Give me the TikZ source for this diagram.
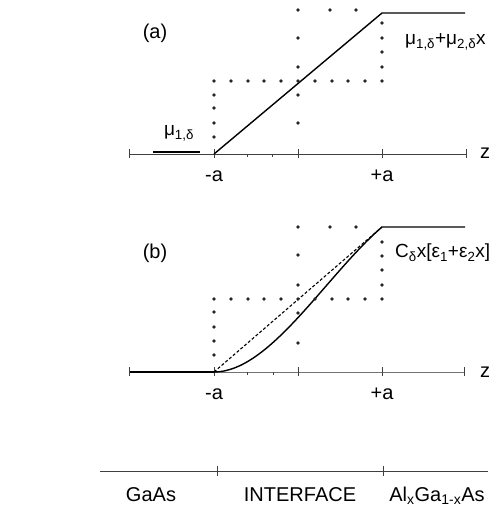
\documentclass[tikz,border=0pt]{standalone}
\usepackage{fontspec}
\setmainfont{Liberation Sans}
\begin{document}
\begin{tikzpicture}[x=1pt,y=-1pt,
  axisline/.style={line width=0.9pt,black!75},
  curveline/.style={line width=1.4pt,black},
  tickmark/.style={line width=0.8pt,black!75},
  dotmark/.style={fill=black!85,draw=none},
  lbl/.style={font=\fontsize{19}{21}\selectfont,inner sep=0pt},
  biglbl/.style={font=\fontsize{20}{22}\selectfont,inner sep=0pt}]
\useasboundingbox (0,0) rectangle (498,531);
% ---------- panel (a) ----------
\coordinate (aL) at (129,154);
\coordinate (aA) at (214,154);
\coordinate (aM) at (298,154);
\coordinate (aB) at (382,154);
\coordinate (aR) at (466,154);
\coordinate (aTop) at (382,13);
\coordinate (aEnd) at (465,13);
\draw[axisline] (aL) -- (aR);
\foreach \x in {129,214,298,382,466} \draw[tickmark] (\x,149) -- (\x,158);
\foreach \x in {247,272} \draw[tickmark] (\x,154) -- (\x,157);
\draw[curveline] (153,152) -- (200,152);
\draw[curveline] (aA) -- (aTop) -- (aEnd);
\foreach \x in {214,231,248,264,281,298,315,332,348,365,382} \fill[dotmark] (\x,81) circle (1.9);
\foreach \y in {95,108,123,137} \fill[dotmark] (214,\y) circle (1.9);
\foreach \y in {23,38,52,67} \fill[dotmark] (382,\y) circle (1.9);
\foreach \y in {10,38,67,95,123} \fill[dotmark] (298,\y) circle (1.9);
\foreach \x in {330,356} \fill[dotmark] (\x,10) circle (1.9);
\node[biglbl] (alab) at (155,33) {(a)};
\node[lbl] (mu1) at (179,133) {μ\textsubscript{1,δ}};
\node[lbl,anchor=west] (mu12) at (405,42) {μ\textsubscript{1,δ}+μ\textsubscript{2,δ}x};
\node[biglbl] (za) at (485,153) {z};
\node[biglbl] (ma) at (214,176) {-a};
\node[biglbl] (pa) at (382,176) {+a};
% ---------- panel (b) ----------
\coordinate (bL) at (129,372);
\coordinate (bA) at (214,372);
\coordinate (bM) at (298,372);
\coordinate (bB) at (382,372);
\coordinate (bR) at (464,372);
\coordinate (bTop) at (382,227);
\coordinate (bEnd) at (465,227);
\draw[curveline] (bL) -- (bA);
\draw[axisline,black!55] (bA) -- (bR);
\foreach \x in {129,214,298,382,464} \draw[tickmark] (\x,367) -- (\x,376);
\foreach \x in {247,273} \draw[tickmark] (\x,372) -- (\x,375);
\draw[line width=1.1pt,densely dashed] (bA) -- (bTop);
\draw[curveline] (bA) .. controls (270,372) and (326,275.3) .. (bTop) -- (bEnd);
\foreach \x in {214,231,248,264,281,298,315,332,348,365,382} \fill[dotmark] (\x,299) circle (1.9);
\foreach \y in {312,327,341,355} \fill[dotmark] (214,\y) circle (1.9);
\foreach \y in {242,256,270,285} \fill[dotmark] (382,\y) circle (1.9);
\foreach \y in {227,255,285,313,343} \fill[dotmark] (298,\y) circle (1.9);
\foreach \x in {330,356} \fill[dotmark] (\x,227) circle (1.9);
\node[biglbl] (blab) at (155,253) {(b)};
\node[lbl,anchor=west] (ceps) at (395,253) {C\textsubscript{δ}x[ε\textsubscript{1}+ε\textsubscript{2}x]};
\node[biglbl] (zb) at (485,372) {z};
\node[biglbl] (mb) at (214,394) {-a};
\node[biglbl] (pb) at (382,394) {+a};
% ---------- bottom ----------
\coordinate (cL) at (100,471);
\coordinate (cR) at (488,471);
\draw[axisline] (cL) -- (cR);
\foreach \x in {217,383} \draw[tickmark] (\x,466) -- (\x,476);
\node[biglbl] (gaas) at (151,495) {GaAs};
\node[biglbl] (intf) at (300,495) {INTERFACE};
\node[biglbl] (algaas) at (437,496) {Al\textsubscript{x}Ga\textsubscript{1-x}As};
\end{tikzpicture}
\end{document}
